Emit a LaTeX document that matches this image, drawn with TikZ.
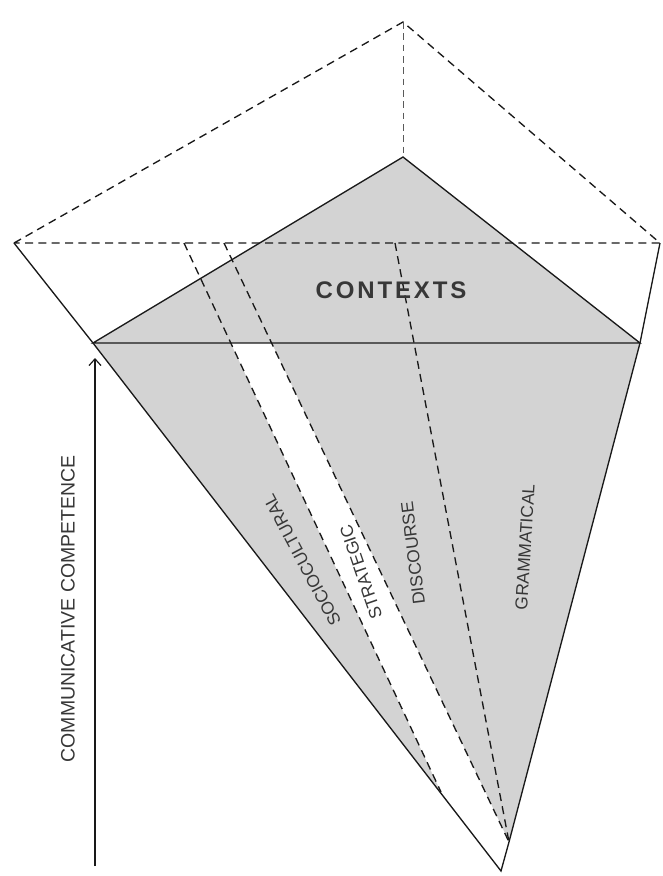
\documentclass[tikz,border=0pt]{standalone}
\usepackage{fontspec}
\setmainfont{Liberation Sans}
\usetikzlibrary{arrows.meta}

\begin{document}
\begin{tikzpicture}[x=0.75pt,y=0.75pt,yscale=-1,xscale=1,
    edge/.style={draw={rgb, 255:red, 25; green, 25; blue, 25 }, line width=1pt},
    dashedge/.style={edge, dash pattern=on 6pt off 4pt},
    thindash/.style={draw={rgb, 255:red, 90; green, 90; blue, 90 }, line width=0.6pt, dash pattern=on 5pt off 3.5pt},
    facet/.style={fill={rgb, 255:red, 211; green, 211; blue, 211 }},
    lbl/.style={inner sep=0pt, text={rgb, 255:red, 55; green, 55; blue, 55 }, font=\fontsize{13}{15}\selectfont}]
            %uncomment if require: \path (0,876); %set diagram left start at 0, and has height of 876
            \useasboundingbox (0,0) rectangle (662,876);

            % Corners
            \coordinate (top) at (403,22);
            \coordinate (lft) at (14,243);
            \coordinate (rgt) at (660,243);
            \coordinate (apex) at (403,157);
            \coordinate (bl) at (93,343);
            \coordinate (br) at (640,343);
            \coordinate (gin) at (509,842);
            \coordinate (tip) at (501,871);
            % Dashed dividers
            \coordinate (soc) at (184,243);
            \coordinate (socend) at (441,792);
            \coordinate (str) at (224,243);
            \coordinate (dis) at (395,243);
            \coordinate (socb) at (intersection of soc--socend and bl--br);
            \coordinate (strb) at (intersection of str--gin and bl--br);

            %Shape: Polygon [contexts]
            \fill [facet] (apex) -- (bl) -- (br) -- cycle ;
            %Shape: Polygon [competences]
            \fill [facet] (bl) -- (br) -- (gin) -- (tip) -- cycle ;
            %Shape: Polygon [strategic strip]
            \fill [white] (socb) -- (socend) -- (tip) -- (gin) -- (strb) -- cycle ;

            %Straight Lines [outer pyramid]
            \draw [dashedge] (lft) -- (top) -- (rgt) -- cycle ;
            \draw [thindash] (top) -- (apex) ;
            \draw [edge] (lft) -- (bl) -- (tip) -- (gin) -- (br) -- (rgt) ;
            \draw [edge] (apex) -- (bl) -- (br) -- cycle ;
            %Straight Lines [dividers]
            \draw [dashedge] (soc) -- (socend) ;
            \draw [dashedge] (str) -- (gin) ;
            \draw [dashedge] (dis) -- (gin) ;

            %Straight Lines [arrow]
            \coordinate (ccfoot) at (95,866);
            \coordinate (cchead) at (95,358);
            \draw [edge, line width=0.9pt, -{Straight Barb[length=5pt,width=9pt]}] (ccfoot) -- (cchead) ;

            % Text Node
            \draw (391,290) node (ctx) [lbl, font=\fontsize{18}{20}\selectfont\bfseries\addfontfeature{LetterSpace=12}] {CONTEXTS};
            % Text Node
            \draw (302,560) node (socl) [lbl, rotate=118] {SOCIOCULTURAL};
            % Text Node
            \draw (361,572) node (strl) [lbl, rotate=109] {STRATEGIC};
            % Text Node
            \draw (413,553) node (disl) [lbl, rotate=97] {DISCOURSE};
            % Text Node
            \draw (525,547) node (gral) [lbl, rotate=86.5] {GRAMMATICAL};
            % Text Node
            \draw (68,609) node (ccl) [lbl, rotate=90, font=\fontsize{14.6}{17}\selectfont] {COMMUNICATIVE COMPETENCE};

\end{tikzpicture}
\end{document}
